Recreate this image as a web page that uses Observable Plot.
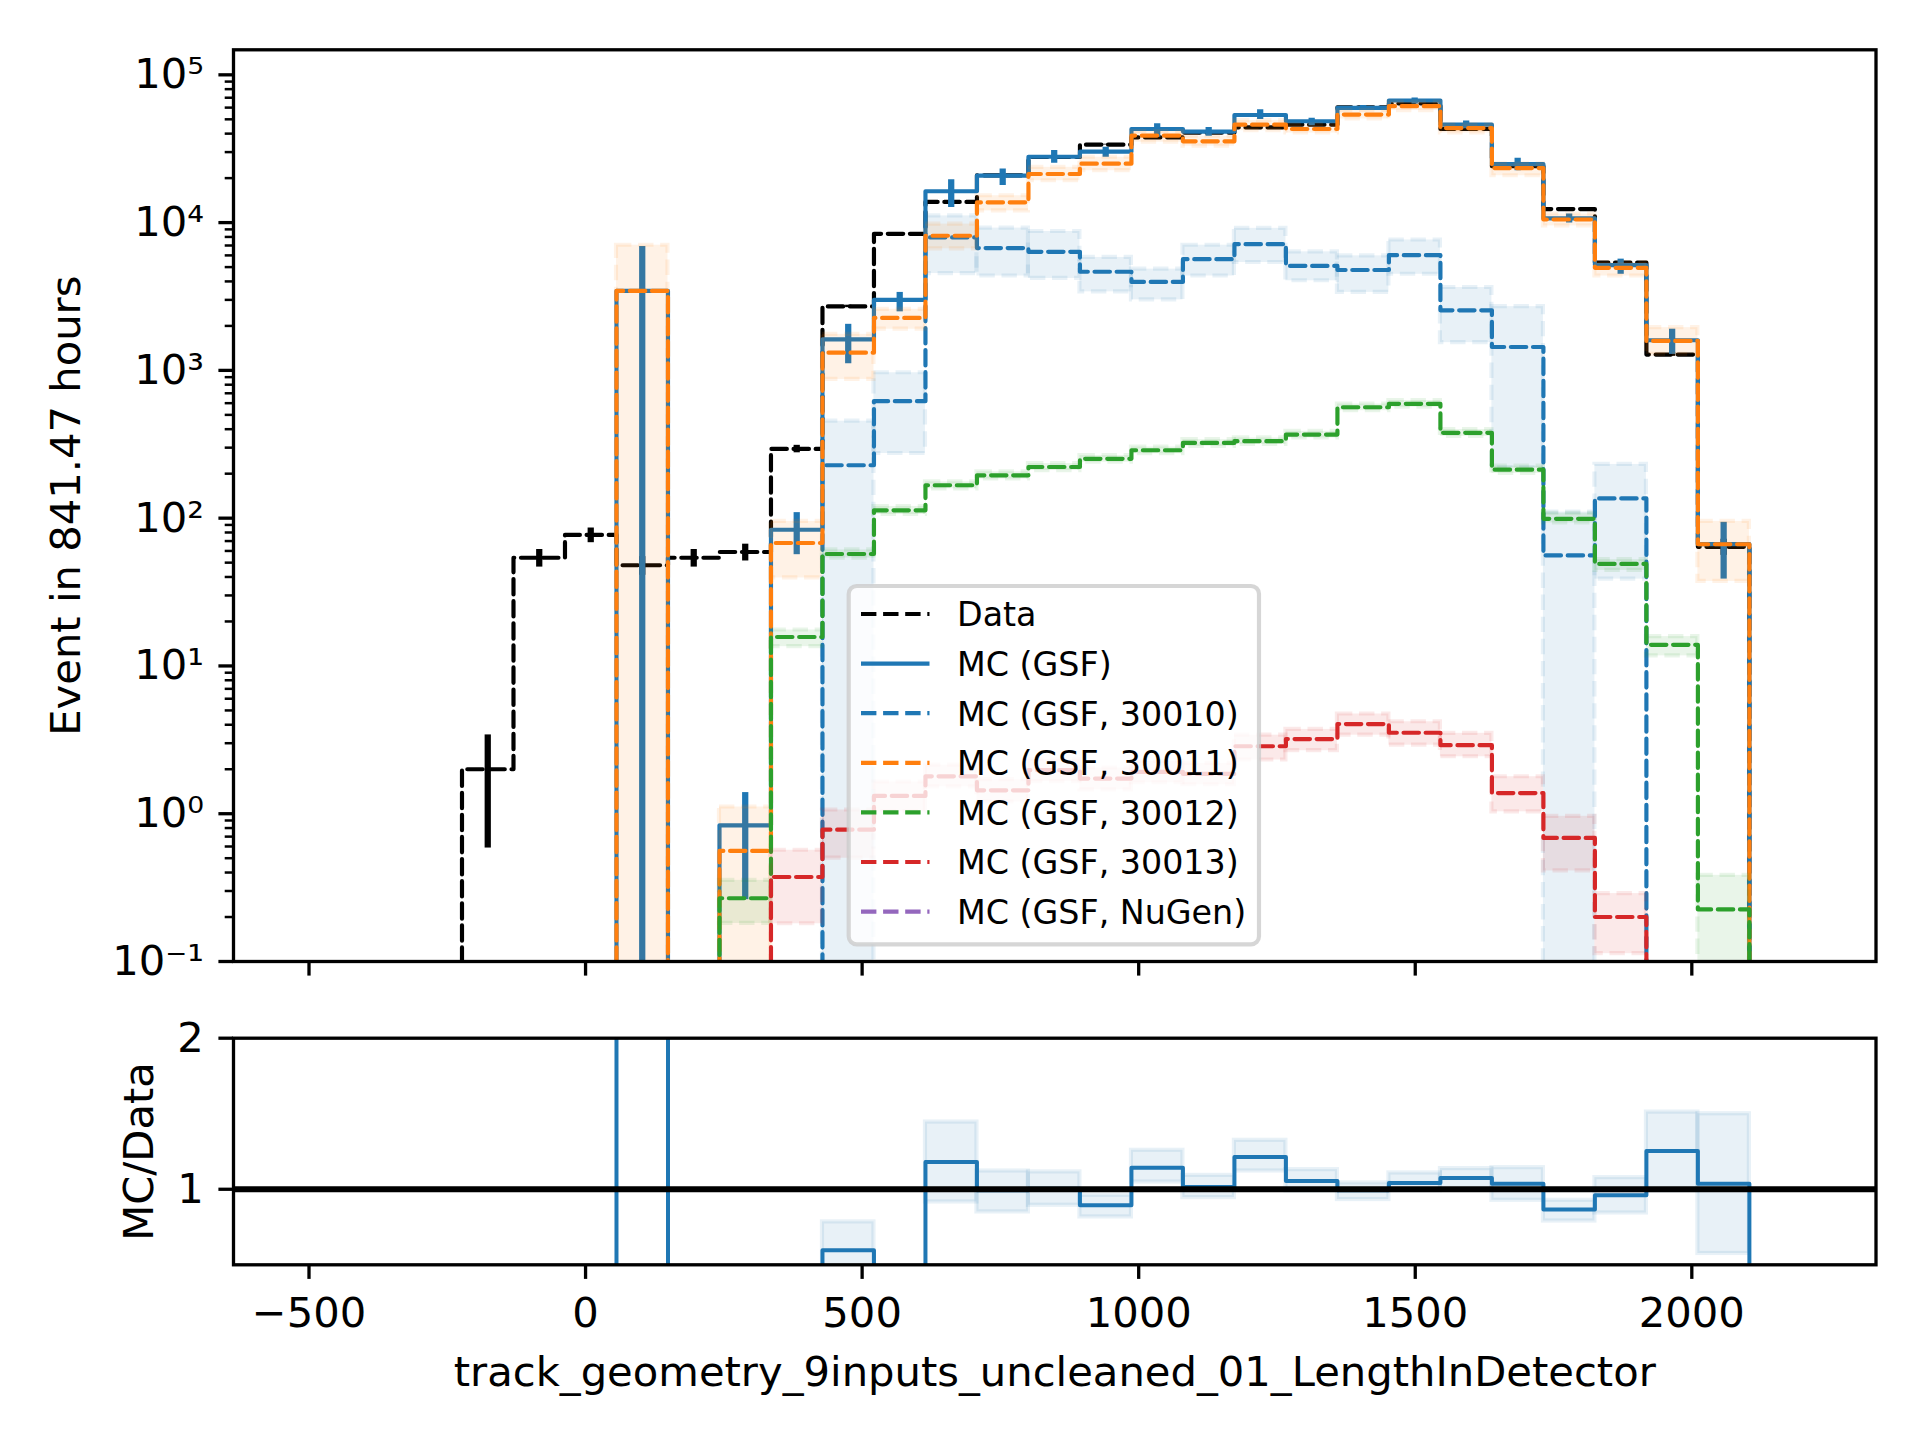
<!DOCTYPE html>
<html><head><meta charset="utf-8">
<script src="https://cdn.jsdelivr.net/npm/d3@7"></script>
<script src="https://cdn.jsdelivr.net/npm/@observablehq/plot@0.6"></script>
<style>
html, body {margin:0; padding:0; background:white; overflow:hidden;}
#chart {position:relative; width:1920px; height:1440px; font-family:'DejaVu Sans', sans-serif; background:white;}
#chart > svg {position:absolute; left:0; max-width:none;}
</style></head><body><div id="chart"></div>
<script>
// ---------- data ----------
const binEdges = [-223.4, -130.3, -37.2, 55.9, 149.0, 242.1, 335.2, 428.3, 521.4, 614.5, 707.6, 800.7, 893.8, 986.9, 1080.0, 1173.1, 1266.2, 1359.3, 1452.4, 1545.5, 1638.6, 1731.7, 1824.8, 1917.9, 2011.0, 2104.1];
const dataCounts = [2, 54, 77, 48, 54, 59, 294, 2710, 8400, 13800, 20900, 27800, 33700, 37700, 40600, 44100, 46000, 60200, 64000, 43000, 24100, 12350, 5370, 1280, 64];
const mcGSF = [0, 0, 0, 3450, 0, 0.835, 83.5, 1620, 3000, 16300, 20800, 27900, 30200, 43000, 41300, 53500, 48500, 59700, 67000, 46000, 24900, 10670, 5150, 1600, 66.8];
const mcGSFErrLo = [null, null, null, 0, null, 0.262, 56.6, 1109, 2490, 12670, 17800, 25200, 27700, 37850, 38400, 49800, 45300, 57300, 63500, 43100, 22400, 9930, 4470, 1283, 38.7];
const mcGSFErrHi = [null, null, null, 6900, null, 1.39, 109, 2050, 3370, 19500, 23070, 30700, 32350, 46600, 44000, 58000, 50800, 61900, 69800, 48800, 27300, 11430, 5660, 1900, 93.7];

const mc30010 = [0, 0, 0, 0, 0, 0, 0, 228, 619, 7940, 6720, 6340, 4650, 3970, 5660, 7150, 5090, 4780, 6020, 2550, 1440, 56, 136, 0, 0];
const mc30010Lo = [null, null, null, null, null, null, null, 0, 274, 4520, 4350, 4190, 3400, 3000, 4350, 5370, 4040, 3370, 4470, 1540, 219, 0, 38.7, null, null];
const mc30010Hi = [null, null, null, null, null, null, null, 453, 964, 11100, 9180, 8710, 5810, 4840, 7030, 9140, 6340, 5960, 7630, 3640, 2700, 110, 231, null, null];

const mc30011 = [0, 0, 0, 3450, 0, 0.56, 67.9, 1318, 2266, 8150, 13700, 21340, 25060, 38800, 35500, 46000, 43000, 53800, 61400, 43600, 23400, 10500, 4940, 1583, 66.6];
const mc30011Lo = [null, null, null, 0, null, 0, 39.4, 869, 1900, 6650, 12000, 19200, 22450, 35000, 32900, 41900, 40400, 50300, 57300, 40400, 20760, 9500, 4350, 1283, 37.3];
const mc30011Hi = [null, null, null, 7030, null, 1.11, 95, 1754, 2590, 9770, 15200, 23660, 27700, 41300, 38400, 49000, 45800, 57300, 65300, 45800, 24950, 11430, 5370, 1945, 95];

const mc30012 = [0, 0, 0, 0, 0, 0.268, 15.7, 57.2, 113, 167, 195, 222, 252, 288, 323, 332, 368, 563, 594, 378, 213, 99, 49, 13.9, 0.225];
const mc30012Lo = [null, null, null, null, null, 0.181, 13.5, 53.7, 106, 158, 184, 210, 239, 273, 306, 315, 349, 534, 563, 358, 201, 92.7, 44.3, 11.7, 0];
const mc30012Hi = [null, null, null, null, null, 0.354, 17.5, 61, 120, 176, 206, 234, 265, 303, 340, 349, 387, 592, 625, 398, 225, 108, 52.4, 15.8, 0.383];

const mc30013 = [0, 0, 0, 0, 0, 0, 0.373, 0.78, 1.32, 1.79, 1.44, 1.97, 1.73, 1.92, 1.86, 2.86, 3.2, 4.04, 3.53, 2.91, 1.38, 0.686, 0.2, 0, 0];
const mc30013Lo = [null, null, null, null, null, null, 0.18, 0.5, 1.03, 1.52, 1.2, 1.65, 1.45, 1.62, 1.57, 2.31, 2.67, 3.4, 2.91, 2.43, 1.03, 0.41, 0.113, null, null];
const mc30013Hi = [null, null, null, null, null, null, 0.566, 1.06, 1.64, 2.13, 1.7, 2.32, 2.04, 2.26, 2.19, 3.4, 3.72, 4.73, 4.19, 3.5, 1.78, 0.96, 0.288, null, null];

const mcNuGen = [0, 0, 0, 0, 0, 0, 0, 0, 0, 0, 0, 0, 0, 0, 0, 0, 0, 0, 0, 0, 0, 0, 0, 0, 0];

const ratio = [0, 0, 0, 72, 0, 0.014, 0.28, 0.597, 0.357, 1.18, 0.993, 1.004, 0.894, 1.143, 1.015, 1.214, 1.055, 0.993, 1.042, 1.075, 1.037, 0.866, 0.96, 1.253, 1.037];
const ratioLo = [null, null, null, null, null, null, null, 0.41, null, 0.916, 0.85, 0.894, 0.817, 1.048, 0.945, 1.121, 0.989, 0.932, 0.99, 0.993, 0.927, 0.79, 0.843, 0.99, 0.575];
const ratioHi = [null, null, null, null, null, null, null, 0.784, null, 1.445, 1.121, 1.115, 0.96, 1.258, 1.092, 1.324, 1.13, 1.042, 1.108, 1.137, 1.143, 0.927, 1.077, 1.511, 1.5];

const xTicks = [-500, 0, 500, 1000, 1500, 2000];
const yTicksMain = [0.1, 1, 10, 100, 1000, 10000, 100000];
const yTicksRatio = [1, 2];
const legendLabels = ["Data", "MC (GSF)", "MC (GSF, 30010)", "MC (GSF, 30011)", "MC (GSF, 30012)", "MC (GSF, 30013)", "MC (GSF, NuGen)"];
const xLabel = "track_geometry_9inputs_uncleaned_01_LengthInDetector";
const yLabelMain = "Event in 841.47 hours";
const yLabelRatio = "MC/Data";

// ---------- styling ----------
const COL = {data: "#000000", blue: "#1f77b4", orange: "#ff7f0e", green: "#2ca02c", red: "#d62728", purple: "#9467bd"};
const FS = 41.7, LW = 4.17, EW = 6.25, DASH = "15.4,6.7", FLOOR = 1e-4;
const xDomain = [-636.5, 2333];
const yTop = 1.477e5;
const nb = dataCounts.length;
const centers = dataCounts.map((_, i) => (binEdges[i] + binEdges[i + 1]) / 2);

function stepPoints(vals, floor) {
  const f = v => (v > 0 ? v : floor);
  const pts = [{x: binEdges[0], y: floor}];
  vals.forEach((v, i) => pts.push({x: binEdges[i], y: f(v)}));
  pts.push({x: binEdges[nb], y: f(vals[nb - 1])});
  pts.push({x: binEdges[nb], y: floor});
  return pts;
}
function bandRects(lo, hi, floor) {
  const r = [];
  lo.forEach((l, i) => {
    if (l != null && hi[i] != null) r.push({x1: binEdges[i], x2: binEdges[i + 1], y1: l > 0 ? l : floor, y2: hi[i]});
  });
  return r;
}
function errBars(lo, hi, floor) {
  const r = [];
  lo.forEach((l, i) => {
    if (l != null && hi[i] != null) r.push({x: centers[i], y1: l > 0 ? l : floor, y2: hi[i]});
  });
  return r;
}
const dataErr = dataCounts.map((v, i) => ({x: centers[i], y1: Math.max(v - Math.sqrt(v), FLOOR), y2: v + Math.sqrt(v)}));

const supMap = {"0": "\u2070", "1": "\u00b9", "2": "\u00b2", "3": "\u00b3", "4": "\u2074", "5": "\u2075", "6": "\u2076", "7": "\u2077", "8": "\u2078", "9": "\u2079", "-": "\u207b"};
const fmtLog = d => "10" + String(Math.round(Math.log10(d))).split("").map(c => supMap[c]).join("");
const fmtX = d => (d < 0 ? "\u2212" : "") + Math.abs(d);

const minorY = [];
for (let e = -1; e <= 5; e++) for (let m = 2; m <= 9; m++) { const v = m * Math.pow(10, e); if (v <= yTop) minorY.push(v); }

const mcSeries = [
  {vals: mc30010, lo: mc30010Lo, hi: mc30010Hi, color: COL.blue},
  {vals: mc30011, lo: mc30011Lo, hi: mc30011Hi, color: COL.orange},
  {vals: mc30012, lo: mc30012Lo, hi: mc30012Hi, color: COL.green},
  {vals: mc30013, lo: mc30013Lo, hi: mc30013Hi, color: COL.red},
  {vals: mcNuGen, lo: [], hi: [], color: COL.purple}
];

const svgStyle = {fontFamily: "DejaVu Sans", background: "white", maxWidth: "none", overflow: "visible"};

const main = Plot.plot({
  width: 1920, height: 1000,
  marginLeft: 233, marginRight: 44.5, marginTop: 49.3, marginBottom: 39,
  style: svgStyle,
  x: {domain: xDomain},
  y: {type: "log", domain: [0.1, yTop]},
  marks: [
    Plot.line(stepPoints(dataCounts, FLOOR), {x: "x", y: "y", curve: "step-after", stroke: COL.data, strokeWidth: LW, strokeDasharray: DASH, clip: true}),
    Plot.ruleX(dataErr, {x: "x", y1: "y1", y2: "y2", stroke: COL.data, strokeWidth: EW, clip: true}),
    Plot.line(stepPoints(mcGSF, FLOOR), {x: "x", y: "y", curve: "step-after", stroke: COL.blue, strokeWidth: LW, clip: true}),
    Plot.ruleX(errBars(mcGSFErrLo, mcGSFErrHi, FLOOR), {x: "x", y1: "y1", y2: "y2", stroke: COL.blue, strokeWidth: EW, clip: true}),
    ...mcSeries.flatMap(s => [
      Plot.rect(bandRects(s.lo, s.hi, FLOOR), {x1: "x1", x2: "x2", y1: "y1", y2: "y2", fill: s.color, fillOpacity: 0.1, stroke: s.color, strokeOpacity: 0.1, strokeWidth: LW, strokeDasharray: DASH, clip: true}),
      Plot.line(stepPoints(s.vals, FLOOR), {x: "x", y: "y", curve: "step-after", stroke: s.color, strokeWidth: LW, strokeDasharray: DASH, clip: true})
    ]),
    Plot.frame({stroke: "black", strokeWidth: 3.3}),
    Plot.axisY({ticks: yTicksMain, tickSize: 14.6, tickPadding: 15, strokeWidth: 3.3, tickFormat: fmtLog, fontSize: FS, label: null}),
    Plot.axisY({ticks: minorY, tickSize: 8.3, strokeWidth: 2.5, fill: "none", label: null}),
    Plot.axisX({ticks: xTicks, tickSize: 14.6, strokeWidth: 3.3, fill: "none", label: null}),
    Plot.text([yLabelMain], {text: d => d, frameAnchor: "left", rotate: -90, textAnchor: "middle", lineAnchor: "bottom", dx: -154, fontSize: FS, fill: "black"})
  ]
});
main.style.top = "0px";

const ratioPlot = Plot.plot({
  width: 1920, height: 440,
  marginLeft: 233, marginRight: 44.5, marginTop: 37.7, marginBottom: 175.7,
  style: svgStyle,
  x: {domain: xDomain},
  y: {domain: [0.5, 2]},
  marks: [
    Plot.rect(bandRects(ratioLo, ratioHi, 0), {x1: "x1", x2: "x2", y1: "y1", y2: "y2", fill: COL.blue, fillOpacity: 0.1, stroke: COL.blue, strokeOpacity: 0.1, strokeWidth: LW, clip: true}),
    Plot.line(stepPoints(ratio, 0), {x: "x", y: "y", curve: "step-after", stroke: COL.blue, strokeWidth: 4, clip: true}),
    Plot.ruleY([1], {stroke: "black", strokeWidth: 6}),
    Plot.frame({stroke: "black", strokeWidth: 3.3}),
    Plot.axisX({ticks: xTicks, tickSize: 14.6, tickPadding: 17.8, strokeWidth: 3.3, tickFormat: fmtX, fontSize: FS, label: null}),
    Plot.axisY({ticks: yTicksRatio, tickSize: 14.6, tickPadding: 15, strokeWidth: 3.3, tickFormat: d => String(d), fontSize: FS, label: null}),
    Plot.text([xLabel], {text: d => d, frameAnchor: "bottom", lineAnchor: "bottom", dy: 120.7, fontSize: FS, fill: "black"}),
    Plot.text([yLabelRatio], {text: d => d, frameAnchor: "left", rotate: -90, textAnchor: "middle", lineAnchor: "bottom", dx: -80.3, fontSize: FS, fill: "black"})
  ]
});
ratioPlot.style.top = "1000px";

const chart = document.getElementById("chart");
chart.append(main);
chart.append(ratioPlot);

// ---------- legend ----------
const legendItems = [
  {color: COL.data, dash: true}, {color: COL.blue, dash: false}, {color: COL.blue, dash: true},
  {color: COL.orange, dash: true}, {color: COL.green, dash: true}, {color: COL.red, dash: true}, {color: COL.purple, dash: true}
].map((d, i) => ({...d, label: legendLabels[i]}));

const lg = d3.select(chart).append("svg")
  .attr("width", 1920).attr("height", 1000)
  .style("position", "absolute").style("left", "0px").style("top", "0px").style("max-width", "none");
lg.append("rect").attr("x", 848.7).attr("y", 586).attr("width", 410.3).attr("height", 358.3)
  .attr("rx", 8).attr("fill", "white").attr("fill-opacity", 0.8)
  .attr("stroke", "#cccccc").attr("stroke-opacity", 0.8).attr("stroke-width", 4.17);
const rows = lg.selectAll("g.row").data(legendItems).join("g").attr("class", "row")
  .attr("transform", (d, i) => `translate(0,${614 + 49.6 * i})`);
rows.append("line").attr("x1", 861).attr("x2", 929.5).attr("y1", 0).attr("y2", 0)
  .attr("stroke", d => d.color).attr("stroke-width", LW).attr("stroke-dasharray", d => d.dash ? DASH : null);
rows.append("text").attr("x", 957).attr("y", 12.3).attr("font-size", 33.3)
  .attr("font-family", "DejaVu Sans").attr("fill", "black").text(d => d.label);
</script></body></html>
